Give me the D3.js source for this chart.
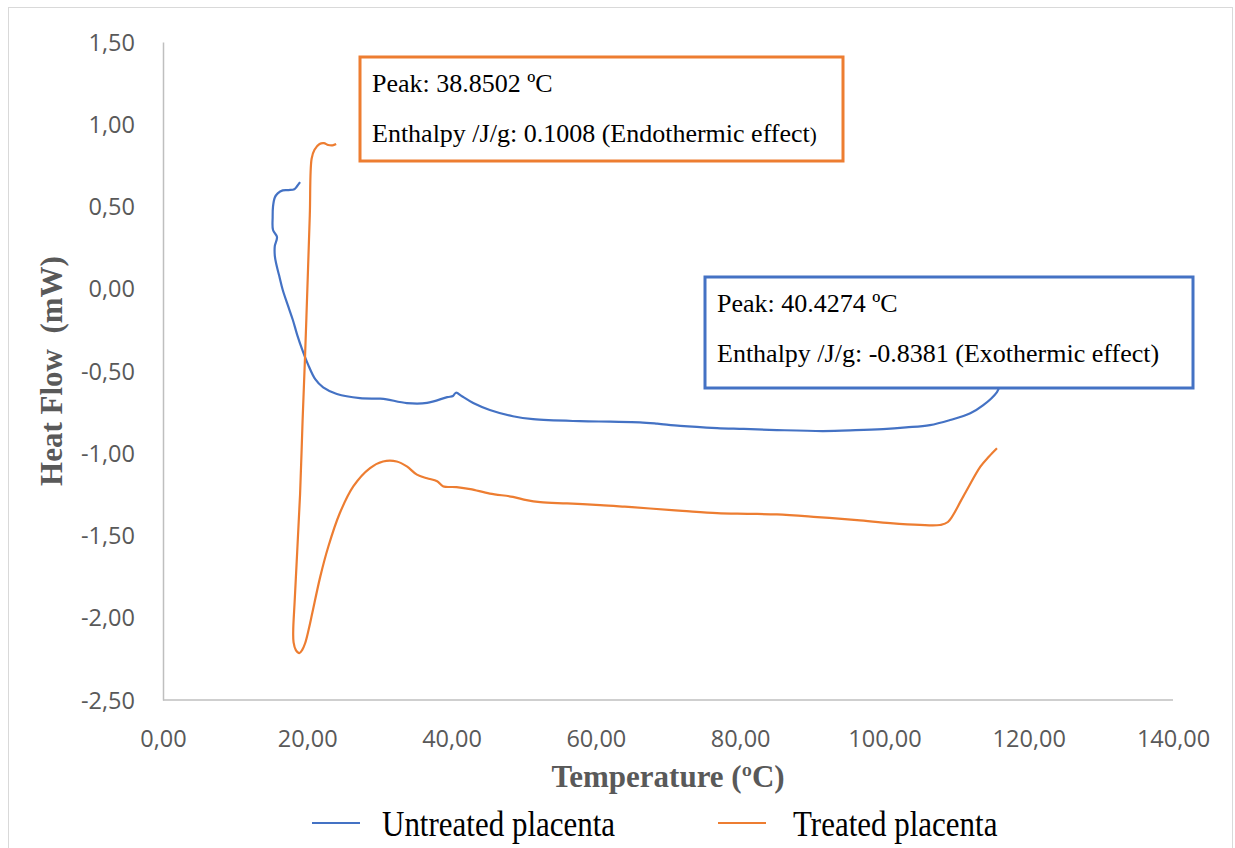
<!DOCTYPE html>
<html>
<head>
<meta charset="utf-8">
<script src="https://cdn.jsdelivr.net/npm/d3@7/dist/d3.min.js"></script>
<style>
  html, body { margin: 0; padding: 0; background: #fff; }
  svg { display: block; }
</style>
</head>
<body>
<svg id="chart" width="1235" height="848"></svg>
<script>
// DSC thermograms: heat flow vs temperature
const tempUntreated = [19.0, 18.6, 18.2, 17.4, 16.6, 15.9, 15.5, 15.25, 15.2, 15.25, 15.8, 15.5, 15.5, 15.7, 16.1, 16.6, 17.3, 18.0, 18.6, 19.3, 20.1, 21.1, 22.2, 24.1, 27.3, 30.1, 31.0, 33.8, 36.6, 39.4, 40.2, 40.6, 41.5, 43.0, 45.3, 48.5, 51.3, 57.8, 62.0, 66.1, 68.5, 71.7, 76.8, 80.5, 85.1, 91.5, 96.0, 99.8, 103.0, 106.3, 109.1, 111.9, 113.7, 115.6, 115.9];
const flowUntreated = [0.648, 0.625, 0.605, 0.600, 0.598, 0.580, 0.555, 0.50, 0.436, 0.357, 0.315, 0.26, 0.20, 0.15, 0.08, -0.008, -0.10, -0.19, -0.28, -0.37, -0.46, -0.55, -0.60, -0.64, -0.665, -0.668, -0.672, -0.695, -0.694, -0.659, -0.652, -0.632, -0.655, -0.695, -0.737, -0.775, -0.793, -0.805, -0.808, -0.812, -0.820, -0.834, -0.847, -0.852, -0.859, -0.865, -0.860, -0.853, -0.843, -0.829, -0.798, -0.757, -0.708, -0.628, -0.60];

const tempTreated = [24.0, 23.5, 22.9, 22.3, 21.7, 21.0, 20.6, 20.35, 20.05, 19.7, 19.35, 19.0, 18.6, 18.25, 18.05, 18.1, 18.4, 18.9, 19.3, 19.7, 20.2, 20.7, 21.8, 22.9, 24.5, 26.4, 28.7, 30.5, 32.4, 33.8, 35.2, 36.6, 38.0, 38.8, 40.7, 42.6, 45.3, 48.5, 50.4, 52.3, 56.0, 60.6, 64.0, 67.5, 72.0, 76.8, 81.0, 85.1, 90.7, 96.2, 100.8, 104.9, 107.7, 108.8, 110.9, 113.3, 114.5, 115.6];
const flowTreated = [0.880, 0.872, 0.874, 0.885, 0.880, 0.845, 0.790, 0.45, 0.05, -0.40, -0.80, -1.25, -1.60, -1.90, -2.08, -2.15, -2.195, -2.215, -2.195, -2.155, -2.07, -1.97, -1.75, -1.57, -1.365, -1.20, -1.09, -1.05, -1.05, -1.08, -1.13, -1.152, -1.17, -1.20, -1.206, -1.218, -1.245, -1.265, -1.285, -1.297, -1.305, -1.315, -1.325, -1.336, -1.350, -1.364, -1.368, -1.372, -1.388, -1.406, -1.425, -1.436, -1.436, -1.418, -1.265, -1.082, -1.02, -0.97];

const xTicks = [0, 20, 40, 60, 80, 100, 120, 140];
const yTicks = [1.5, 1.0, 0.5, 0, -0.5, -1.0, -1.5, -2.0, -2.5];

const seriesNames = ["Untreated placenta", "Treated placenta"];
const seriesColors = ["#4472C4", "#ED7D31"];

const peakNotes = [
  ["Peak: 38.8502 ºC", "Enthalpy /J/g: 0.1008 (Endothermic effect"],
  ["Peak: 40.4274 ºC", "Enthalpy /J/g: -0.8381 (Exothermic effect)"]
];

const svg = d3.select("#chart");

// outer chart frame
svg.append("rect")
  .attr("x", 8.5).attr("y", 7.5)
  .attr("width", 1224).attr("height", 850)
  .attr("fill", "#fff").attr("stroke", "#d9d9d9").attr("stroke-width", 1);

const x = d3.scaleLinear().domain([0, 140]).range([163, 1173]);
const y = d3.scaleLinear().domain([-2.5, 1.5]).range([700, 42]);

const locale = d3.formatLocale({ decimal: ",", thousands: ".", grouping: [3], currency: ["", ""], minus: "-" });
const fmt = locale.format(".2f");

// axes
const xAxis = svg.append("g")
  .attr("transform", `translate(0,${y(-2.5)})`)
  .call(d3.axisBottom(x).tickValues(xTicks).tickSize(0).tickPadding(30).tickFormat(fmt));
const yAxis = svg.append("g")
  .attr("transform", `translate(${x(0)},0)`)
  .call(d3.axisLeft(y).tickValues(yTicks).tickSize(0).tickPadding(28).tickFormat(fmt));

[xAxis, yAxis].forEach(g => {
  g.select(".domain").attr("stroke", "#bfbfbf").attr("stroke-width", 1.5);
  g.selectAll("text")
    .attr("fill", "#595959")
    .style("font-family", "'Open Sans', sans-serif")
    .style("font-size", "23.5px");
});
xAxis.select(".domain").attr("d", `M${x(0)},0H${x(140)}`);
yAxis.selectAll("text").attr("dy", "0.35em");

// axis titles
svg.append("text")
  .attr("x", x(70)).attr("y", 787)
  .attr("text-anchor", "middle")
  .attr("fill", "#595959")
  .style("font-family", "'Liberation Serif', 'Times New Roman', serif")
  .style("font-weight", "bold")
  .style("font-size", "31px")
  .text("Temperature (ºC)");

svg.append("text")
  .attr("transform", `translate(62,${y(-0.5)}) rotate(-90)`)
  .attr("text-anchor", "middle")
  .attr("fill", "#595959")
  .style("font-family", "'Liberation Serif', 'Times New Roman', serif")
  .style("font-weight", "bold")
  .style("font-size", "31px")
  .style("white-space", "pre")
  .text("Heat Flow  (mW)");

// curves
const line = d3.line()
  .x(d => x(d[0]))
  .y(d => y(d[1]))
  .curve(d3.curveCatmullRom.alpha(0.5));

const series = [
  d3.zip(tempUntreated, flowUntreated),
  d3.zip(tempTreated, flowTreated)
];

series.forEach((pts, i) => {
  svg.append("path")
    .datum(pts)
    .attr("d", line)
    .attr("fill", "none")
    .attr("stroke", seriesColors[i])
    .attr("stroke-width", 2.2)
    .attr("stroke-linejoin", "round");
});

// peak annotation boxes
const boxes = [
  { x0: 360, y0: 57, x1: 843, y1: 161, color: seriesColors[1], lines: peakNotes[0], tail: true },
  { x0: 705, y0: 277, x1: 1193, y1: 388, color: seriesColors[0], lines: peakNotes[1], tail: false }
];

boxes.forEach(b => {
  const g = svg.append("g");
  g.append("rect")
    .attr("x", b.x0).attr("y", b.y0)
    .attr("width", b.x1 - b.x0).attr("height", b.y1 - b.y0)
    .attr("fill", "#fff")
    .attr("stroke", b.color).attr("stroke-width", 3);
  g.append("text")
    .attr("x", b.x0 + 12).attr("y", b.y0 + 35)
    .style("font-family", "'Liberation Serif', 'Times New Roman', serif")
    .style("font-size", "26px")
    .attr("fill", "#000")
    .text(b.lines[0]);
  const t2 = g.append("text")
    .attr("x", b.x0 + 12).attr("y", b.y0 + 85)
    .style("font-family", "'Liberation Serif', 'Times New Roman', serif")
    .style("font-size", "26px")
    .attr("fill", "#000");
  t2.append("tspan").text(b.lines[1]);
  if (b.tail) t2.append("tspan").style("font-size", "21px").text(")");
});

// legend
const legendItems = [
  { x: 312, textX: 382 },
  { x: 718, textX: 793 }
];
legendItems.forEach((d, i) => {
  svg.append("line")
    .attr("x1", d.x).attr("x2", d.x + 48)
    .attr("y1", 823).attr("y2", 823)
    .attr("stroke", seriesColors[i]).attr("stroke-width", 2.2);
  svg.append("text")
    .attr("transform", `translate(${d.textX},836) scale(1,1.15)`)
    .style("font-family", "'Liberation Serif', 'Times New Roman', serif")
    .style("font-size", "31px")
    .attr("fill", "#000")
    .text(seriesNames[i]);
});
</script>
</body>
</html>
